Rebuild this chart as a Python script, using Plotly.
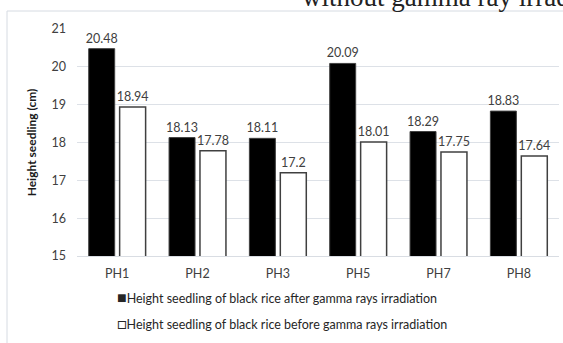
import plotly.graph_objects as go

categories = ["PH1", "PH2", "PH3", "PH5", "PH7", "PH8"]
after_gamma = [20.48, 18.13, 18.11, 20.09, 18.29, 18.83]
before_gamma = [18.94, 17.78, 17.2, 18.01, 17.75, 17.64]
y_ticks = [15, 16, 17, 18, 19, 20, 21]
legend_after = "Height seedling of black rice after gamma rays irradiation"
legend_before = "Height seedling of black rice before gamma rays irradiation"

W, H = 563, 343
L, R, T, B = 77, 4, 29, 87
pw, ph = W - L - R, H - T - B

def px_x(x):
    return (x - L) / pw

def px_y(y):
    return (H - B - y) / ph

font = "Lato, Carlito, 'Open Sans', sans-serif"
label_font = dict(family=font, size=12.5, color="#404040")

fig = go.Figure()
fig.add_trace(go.Bar(
    x=categories, y=after_gamma, name=legend_after,
    marker=dict(color="black", line=dict(color="#404040", width=1)),
    text=[f"{v:g}" for v in after_gamma], textposition="outside",
    textfont=label_font, cliponaxis=False, constraintext="none",
))
fig.add_trace(go.Bar(
    x=categories, y=before_gamma, name=legend_before,
    marker=dict(color="white", line=dict(color="#404040", width=1.5)),
    text=[f"{v:g}" for v in before_gamma], textposition="outside",
    textfont=label_font, cliponaxis=False, constraintext="none",
))

fig.update_layout(
    width=W, height=H,
    margin=dict(l=L, r=R, t=T, b=B),
    paper_bgcolor="white", plot_bgcolor="white",
    barmode="group", bargap=0.23, bargroupgap=0.16,
    showlegend=False,
    font=dict(family=font, size=12, color="#404040"),
    xaxis=dict(
        showline=True, linecolor="#d9dde3", linewidth=1,
        ticks="", tickfont=dict(family=font, size=12.5, color="#404040"),
        ticklabelstandoff=6,
    ),
    yaxis=dict(
        range=[15, 21], tickvals=y_ticks, showgrid=True,
        gridcolor="#dde1e7", gridwidth=1, zeroline=False,
        tickfont=dict(family=font, size=12.5, color="#404040"),
        ticklabelstandoff=10,
        title=dict(text="<b>Height seedling (cm)</b>", standoff=12,
                   font=dict(family=font, size=12, color="#1a1a1a")),
    ),
)

# chart border
fig.add_shape(type="rect", xref="paper", yref="paper",
              x0=px_x(7), x1=px_x(575), y0=px_y(360), y1=px_y(11),
              line=dict(color="#d6dbe2", width=1), fillcolor="rgba(0,0,0,0)",
              layer="below")

# legend entries (square swatch + label)
swatch = '<span style="font-size:16px">{}</span>'
fig.add_annotation(xref="paper", yref="paper", x=px_x(115), y=px_y(296),
                   xanchor="left", yanchor="middle", showarrow=False,
                   text=swatch.format("■") + legend_after,
                   font=dict(family=font, size=12.5, color="#262626"))
fig.add_annotation(xref="paper", yref="paper", x=px_x(115), y=px_y(322),
                   xanchor="left", yanchor="middle", showarrow=False,
                   text=swatch.format("□") + legend_before,
                   font=dict(family=font, size=12.5, color="#262626"))

# caption text running above the chart
fig.add_annotation(xref="paper", yref="paper", x=px_x(300), y=px_y(14),
                   xanchor="left", yanchor="bottom", showarrow=False,
                   text="without gamma ray irradiation",
                   font=dict(family="Liberation Serif, serif", size=27, color="#222222"))

fig.write_html("out.html")
